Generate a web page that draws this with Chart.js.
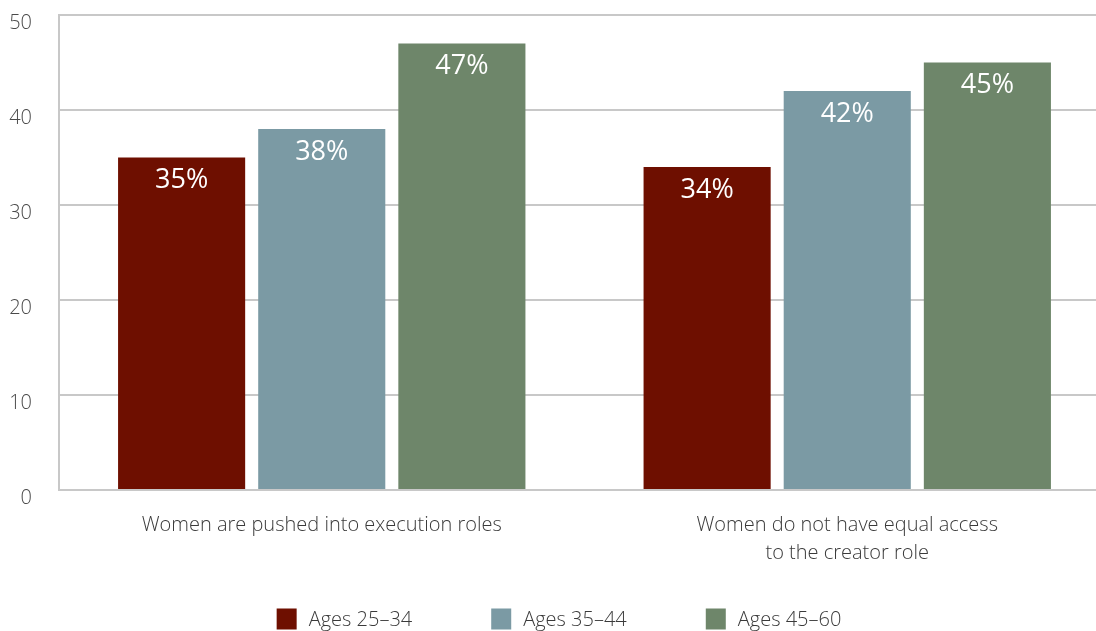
<!DOCTYPE html>
<html>
<head>
<meta charset="utf-8">
<script src="https://cdn.jsdelivr.net/npm/chart.js@4/dist/chart.umd.min.js"></script>
<style>
  html, body { margin: 0; padding: 0; background: #fff; overflow: hidden; }
  #wrap { width: 1110px; height: 631px; }
</style>
</head>
<body>
<div id="wrap"><canvas id="c" width="1110" height="631"></canvas></div>
<script>
// Survey statements (x categories)
const categories = [
  'Women are pushed into execution roles',
  ['Women do not have equal access', 'to the creator role']
];
// Age groups
const seriesNames = ['Ages 25\u201334', 'Ages 35\u201344', 'Ages 45\u201360'];
// Share of respondents agreeing, in percent
const ages25to34 = [35, 34];
const ages35to44 = [38, 42];
const ages45to60 = [47, 45];
// Y axis ticks
const yTicks = [0, 10, 20, 30, 40, 50];

const colors = ['#6e0f00', '#7b9aa4', '#6e866a'];
const FONT = '"Open Sans", "Noto Sans", sans-serif';

// Writes the percentage inside the top of each bar
const barLabels = {
  id: 'barLabels',
  afterDatasetsDraw(chart) {
    const ctx = chart.ctx;
    ctx.save();
    ctx.fillStyle = '#ffffff';
    ctx.font = '27px ' + FONT;
    ctx.textAlign = 'center';
    ctx.textBaseline = 'middle';
    chart.data.datasets.forEach((ds, i) => {
      chart.getDatasetMeta(i).data.forEach((bar, j) => {
        ctx.fillText(ds.data[j] + '%', bar.x, bar.y + 23);
      });
    });
    ctx.restore();
  }
};

// Centered legend row along the bottom with wide gaps between entries
const bottomLegend = {
  id: 'bottomLegend',
  afterDraw(chart) {
    const ctx = chart.ctx;
    const box = { w: 20, h: 21 }, textGap = 12, itemGap = 79, cy = 619;
    ctx.save();
    ctx.font = '300 20px ' + FONT;
    ctx.textBaseline = 'middle';
    const items = chart.data.datasets.map(ds => ({
      text: ds.label, color: ds.backgroundColor,
      w: box.w + textGap + ctx.measureText(ds.label).width
    }));
    const total = items.reduce((s, it) => s + it.w, 0) + itemGap * (items.length - 1);
    let x = chart.width / 2 + 4 - total / 2;
    items.forEach(it => {
      ctx.fillStyle = it.color;
      ctx.fillRect(x, cy - box.h / 2, box.w, box.h);
      ctx.fillStyle = '#3a3a3a';
      ctx.fillText(it.text, x + box.w + textGap, cy + 1);
      x += it.w + itemGap;
    });
    ctx.restore();
  }
};

new Chart(document.getElementById('c'), {
  type: 'bar',
  data: {
    labels: categories,
    datasets: [
      { label: seriesNames[0], data: ages25to34, backgroundColor: colors[0] },
      { label: seriesNames[1], data: ages35to44, backgroundColor: colors[1] },
      { label: seriesNames[2], data: ages45to60, backgroundColor: colors[2] }
    ]
  },
  options: {
    responsive: false,
    devicePixelRatio: 1,
    animation: false,
    layout: { padding: { top: 15, left: 0, right: 0, bottom: 0 } },
    datasets: { bar: { categoryPercentage: 0.8, barPercentage: 0.907 } },
    scales: {
      x: {
        grid: { display: false, drawTicks: false },
        border: { display: true, color: '#c8c8c8', width: 2 },
        ticks: { color: '#3a3a3a', font: { family: FONT, size: 20, weight: '300', lineHeight: 1.4 }, padding: 21, maxRotation: 0 },
        afterFit(scale) { scale.height = 141; scale.paddingLeft = 0; scale.paddingRight = 0; }
      },
      y: {
        min: 0, max: 50,
        afterBuildTicks(scale) { scale.ticks = yTicks.map(v => ({ value: v })); },
        grid: { color: '#c8c8c8', lineWidth: 2, drawTicks: false },
        border: { display: true, color: '#c8c8c8', width: 2 },
        ticks: { color: '#4a4a4a', font: { family: FONT, size: 20, weight: '300' }, padding: 27, labelOffset: 8 },
        afterFit(scale) { scale.width = 59; scale.paddingTop = 0; scale.paddingBottom = 0; }
      }
    },
    plugins: {
      legend: { display: false },
      tooltip: { enabled: false }
    }
  },
  plugins: [barLabels, bottomLegend]
});
</script>
</body>
</html>
